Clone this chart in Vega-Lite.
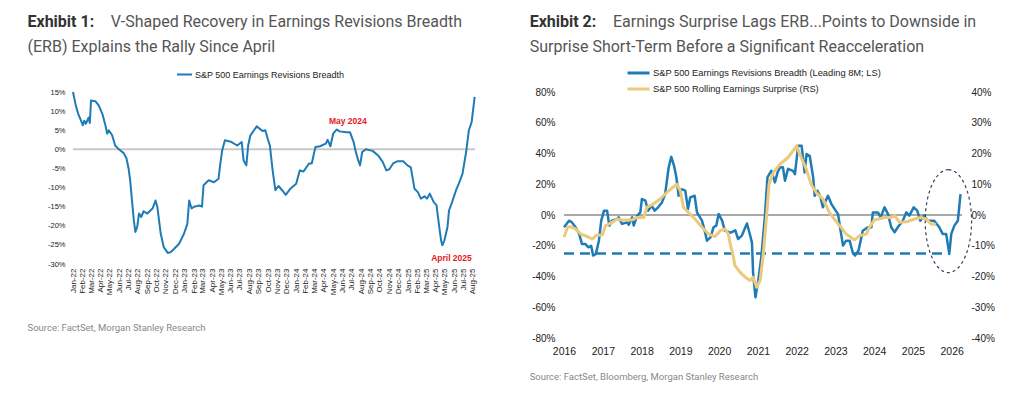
{
"$schema": "https://vega.github.io/schema/vega-lite/v6.json",
"background": "white",
"padding": {"left": 27, "top": 14, "right": 5, "bottom": 5},
"config": {
  "view": {"stroke": null},
  "axis": {"grid": false, "domain": false, "ticks": false, "labelFont": "Liberation Sans", "labelColor": "#222"}
},
"datasets": {
  "erb": [
{"date":"2022-01-01","erb":15.0},{"date":"2022-01-10","erb":11.5},{"date":"2022-01-18","erb":9.3},{"date":"2022-01-27","erb":7.6},{"date":"2022-02-02","erb":6.3},{"date":"2022-02-07","erb":7.5},{"date":"2022-02-12","erb":6.7},{"date":"2022-02-21","erb":8.3},{"date":"2022-02-25","erb":6.9},{"date":"2022-03-01","erb":12.8},{"date":"2022-03-15","erb":12.6},{"date":"2022-03-26","erb":11.5},{"date":"2022-04-07","erb":9.3},{"date":"2022-04-17","erb":6.3},{"date":"2022-04-23","erb":4.1},{"date":"2022-04-28","erb":5.0},{"date":"2022-05-09","erb":3.7},{"date":"2022-05-19","erb":1.0},{"date":"2022-05-31","erb":0.0},{"date":"2022-06-16","erb":-1.0},{"date":"2022-06-25","erb":-2.4},{"date":"2022-07-02","erb":-5.1},{"date":"2022-07-07","erb":-8.1},{"date":"2022-07-13","erb":-13.4},{"date":"2022-07-19","erb":-18.6},{"date":"2022-07-24","erb":-21.6},{"date":"2022-07-30","erb":-20.3},{"date":"2022-08-05","erb":-16.8},{"date":"2022-08-12","erb":-17.7},{"date":"2022-08-20","erb":-16.2},{"date":"2022-09-01","erb":-16.8},{"date":"2022-09-18","erb":-15.5},{"date":"2022-09-28","erb":-13.4},{"date":"2022-10-04","erb":-15.1},{"date":"2022-10-15","erb":-22.1},{"date":"2022-10-25","erb":-25.6},{"date":"2022-11-07","erb":-27.1},{"date":"2022-11-16","erb":-26.9},{"date":"2022-11-28","erb":-26.0},{"date":"2022-12-14","erb":-24.7},{"date":"2022-12-30","erb":-22.1},{"date":"2023-01-10","erb":-19.5},{"date":"2023-01-16","erb":-13.4},{"date":"2023-01-24","erb":-15.5},{"date":"2023-02-01","erb":-15.0},{"date":"2023-02-18","erb":-14.7},{"date":"2023-02-27","erb":-15.0},{"date":"2023-03-04","erb":-9.4},{"date":"2023-03-21","erb":-8.1},{"date":"2023-04-07","erb":-8.6},{"date":"2023-04-22","erb":-7.7},{"date":"2023-04-28","erb":-3.7},{"date":"2023-05-04","erb":-0.3},{"date":"2023-05-13","erb":2.4},{"date":"2023-06-01","erb":2.0},{"date":"2023-06-22","erb":1.0},{"date":"2023-07-07","erb":1.9},{"date":"2023-07-13","erb":-2.9},{"date":"2023-07-22","erb":-4.2},{"date":"2023-07-28","erb":1.0},{"date":"2023-08-04","erb":3.6},{"date":"2023-08-16","erb":5.0},{"date":"2023-08-25","erb":6.0},{"date":"2023-09-13","erb":4.8},{"date":"2023-09-22","erb":5.0},{"date":"2023-10-01","erb":2.5},{"date":"2023-10-07","erb":1.0},{"date":"2023-10-16","erb":-5.5},{"date":"2023-10-25","erb":-10.7},{"date":"2023-11-04","erb":-9.6},{"date":"2023-11-16","erb":-10.7},{"date":"2023-11-28","erb":-11.9},{"date":"2023-12-13","erb":-10.3},{"date":"2024-01-01","erb":-9.0},{"date":"2024-01-13","erb":-5.5},{"date":"2024-01-25","erb":-5.8},{"date":"2024-02-12","erb":-3.7},{"date":"2024-02-21","erb":-3.7},{"date":"2024-03-04","erb":0.6},{"date":"2024-03-19","erb":0.8},{"date":"2024-04-07","erb":1.5},{"date":"2024-04-13","erb":2.5},{"date":"2024-04-22","erb":0.8},{"date":"2024-05-01","erb":4.1},{"date":"2024-05-13","erb":5.2},{"date":"2024-05-22","erb":4.7},{"date":"2024-06-13","erb":4.5},{"date":"2024-06-25","erb":4.5},{"date":"2024-07-07","erb":1.9},{"date":"2024-07-13","erb":-0.3},{"date":"2024-07-22","erb":-2.9},{"date":"2024-07-28","erb":-4.2},{"date":"2024-08-04","erb":-0.7},{"date":"2024-08-16","erb":0.0},{"date":"2024-09-07","erb":-0.4},{"date":"2024-09-25","erb":-1.6},{"date":"2024-10-10","erb":-3.3},{"date":"2024-10-22","erb":-5.5},{"date":"2024-11-01","erb":-5.2},{"date":"2024-11-13","erb":-3.7},{"date":"2024-11-28","erb":-3.1},{"date":"2024-12-16","erb":-3.1},{"date":"2024-12-30","erb":-4.2},{"date":"2025-01-10","erb":-4.7},{"date":"2025-01-22","erb":-10.3},{"date":"2025-02-02","erb":-11.2},{"date":"2025-02-12","erb":-12.9},{"date":"2025-02-24","erb":-12.3},{"date":"2025-03-04","erb":-12.9},{"date":"2025-03-13","erb":-11.6},{"date":"2025-03-26","erb":-13.8},{"date":"2025-04-04","erb":-14.6},{"date":"2025-04-13","erb":-20.3},{"date":"2025-04-19","erb":-23.8},{"date":"2025-04-23","erb":-25.1},{"date":"2025-04-30","erb":-23.8},{"date":"2025-05-10","erb":-20.3},{"date":"2025-05-15","erb":-16.0},{"date":"2025-05-25","erb":-13.8},{"date":"2025-06-07","erb":-10.7},{"date":"2025-06-16","erb":-9.0},{"date":"2025-06-28","erb":-6.4},{"date":"2025-07-10","erb":-0.7},{"date":"2025-07-19","erb":5.0},{"date":"2025-07-28","erb":7.1},{"date":"2025-08-01","erb":9.8},{"date":"2025-08-07","erb":13.7}
  ],
  "notes1": [
    {"date":"2024-06-18","value":7.4,"label":"May 2024"},
    {"date":"2025-05-23","value":-28.5,"label":"April 2025"}
  ],
  "erb_lead": [
{"date":"2016-01-01","erb":-8},{"date":"2016-02-17","erb":-3.7},{"date":"2016-03-16","erb":-4.8},{"date":"2016-04-19","erb":-8},{"date":"2016-05-23","erb":-12.3},{"date":"2016-06-18","erb":-18.8},{"date":"2016-07-19","erb":-18.8},{"date":"2016-08-18","erb":-21},{"date":"2016-09-13","erb":-20},{"date":"2016-10-01","erb":-26.4},{"date":"2016-10-27","erb":-25.3},{"date":"2016-11-25","erb":-16.7},{"date":"2016-12-17","erb":-3.7},{"date":"2017-01-12","erb":2.8},{"date":"2017-02-10","erb":2.8},{"date":"2017-03-03","erb":-6.9},{"date":"2017-03-28","erb":-3.7},{"date":"2017-05-15","erb":-2.6},{"date":"2017-05-29","erb":-1.5},{"date":"2017-07-01","erb":-5.8},{"date":"2017-08-18","erb":-4.8},{"date":"2017-09-02","erb":-6.3},{"date":"2017-10-04","erb":-1.5},{"date":"2017-10-19","erb":-6.9},{"date":"2017-11-21","erb":-0.4},{"date":"2017-12-20","erb":1.7},{"date":"2018-01-04","erb":10.4},{"date":"2018-02-06","erb":9.3},{"date":"2018-03-03","erb":2.8},{"date":"2018-04-08","erb":6},{"date":"2018-05-04","erb":2.8},{"date":"2018-06-06","erb":5},{"date":"2018-07-12","erb":8.2},{"date":"2018-08-11","erb":13.6},{"date":"2018-09-13","erb":30.9},{"date":"2018-10-08","erb":37.8},{"date":"2018-11-03","erb":32},{"date":"2018-11-25","erb":24.4},{"date":"2018-12-16","erb":12.5},{"date":"2019-01-12","erb":16.8},{"date":"2019-02-17","erb":15.8},{"date":"2019-03-14","erb":3.9},{"date":"2019-04-05","erb":11.5},{"date":"2019-05-16","erb":12.5},{"date":"2019-06-07","erb":1.7},{"date":"2019-07-24","erb":-3.7},{"date":"2019-08-26","erb":-12.3},{"date":"2019-09-09","erb":-16.7},{"date":"2019-10-12","erb":-14.5},{"date":"2019-11-10","erb":-8},{"date":"2019-12-06","erb":-6.9},{"date":"2019-12-28","erb":0.6},{"date":"2020-01-30","erb":-3.7},{"date":"2020-02-24","erb":-10.2},{"date":"2020-04-19","erb":-11.5},{"date":"2020-06-02","erb":-10},{"date":"2020-06-28","erb":-15.6},{"date":"2020-08-03","erb":-13.4},{"date":"2020-09-20","erb":-5.5},{"date":"2020-10-19","erb":-13},{"date":"2020-11-06","erb":-18},{"date":"2020-11-17","erb":-38},{"date":"2020-12-09","erb":-53.5},{"date":"2021-01-04","erb":-42.7},{"date":"2021-02-02","erb":-27.5},{"date":"2021-03-07","erb":-1.6},{"date":"2021-04-01","erb":24.4},{"date":"2021-05-08","erb":28.8},{"date":"2021-06-10","erb":21.2},{"date":"2021-07-05","erb":27.7},{"date":"2021-07-27","erb":30.9},{"date":"2021-08-25","erb":31},{"date":"2021-09-13","erb":22.3},{"date":"2021-10-12","erb":30},{"date":"2021-11-28","erb":28.7},{"date":"2021-12-16","erb":26.6},{"date":"2022-01-15","erb":45},{"date":"2022-02-17","erb":45},{"date":"2022-03-17","erb":27.7},{"date":"2022-04-04","erb":39.6},{"date":"2022-05-04","erb":38.5},{"date":"2022-06-06","erb":24.4},{"date":"2022-06-20","erb":12.5},{"date":"2022-07-16","erb":15.8},{"date":"2022-08-14","erb":11.5},{"date":"2022-09-05","erb":5},{"date":"2022-10-23","erb":12.5},{"date":"2022-11-25","erb":7.1},{"date":"2023-01-26","erb":0.6},{"date":"2023-02-24","erb":-12.3},{"date":"2023-03-14","erb":-19.9},{"date":"2023-04-12","erb":-16.7},{"date":"2023-05-15","erb":-16.7},{"date":"2023-06-13","erb":-24.2},{"date":"2023-07-05","erb":-26.4},{"date":"2023-08-07","erb":-23.1},{"date":"2023-09-16","erb":-10.2},{"date":"2023-11-03","erb":-8},{"date":"2023-12-06","erb":-8},{"date":"2023-12-20","erb":1.7},{"date":"2024-02-06","erb":1.7},{"date":"2024-03-03","erb":-1.5},{"date":"2024-04-08","erb":5},{"date":"2024-05-11","erb":0.6},{"date":"2024-06-10","erb":-8},{"date":"2024-07-12","erb":-11.2},{"date":"2024-08-11","erb":-8},{"date":"2024-09-27","erb":-3.7},{"date":"2024-10-30","erb":1.7},{"date":"2024-11-28","erb":-0.4},{"date":"2025-01-08","erb":5},{"date":"2025-02-10","erb":2.8},{"date":"2025-03-11","erb":-3.7},{"date":"2025-04-16","erb":-0.4},{"date":"2025-05-19","erb":-3.7},{"date":"2025-07-20","erb":-3.7},{"date":"2025-09-06","erb":-8},{"date":"2025-10-08","erb":-12.3},{"date":"2025-11-10","erb":-12.3},{"date":"2025-12-09","erb":-25.3},{"date":"2025-12-28","erb":-12.3},{"date":"2026-01-26","erb":-6.9},{"date":"2026-02-28","erb":-3.7},{"date":"2026-03-25","erb":13.6}
  ],
  "surprise": [
{"date":"2016-01-01","surprise":-7.2},{"date":"2016-02-03","surprise":-4},{"date":"2016-03-03","surprise":-3.8},{"date":"2016-04-19","surprise":-4.5},{"date":"2016-06-07","surprise":-6.2},{"date":"2016-08-07","surprise":-7},{"date":"2016-09-24","surprise":-7.8},{"date":"2016-10-27","surprise":-6.7},{"date":"2016-12-28","surprise":-6.4},{"date":"2017-01-26","surprise":-3.5},{"date":"2017-03-28","surprise":-2.4},{"date":"2017-05-15","surprise":-1.3},{"date":"2017-07-01","surprise":-1.6},{"date":"2017-10-04","surprise":-1.6},{"date":"2017-11-21","surprise":-0.8},{"date":"2018-01-22","surprise":-0.8},{"date":"2018-02-20","surprise":2.5},{"date":"2018-04-22","surprise":3.6},{"date":"2018-06-24","surprise":5.2},{"date":"2018-09-13","surprise":7.9},{"date":"2018-11-28","surprise":10},{"date":"2019-01-01","surprise":7.9},{"date":"2019-01-30","surprise":2.5},{"date":"2019-03-17","surprise":0.9},{"date":"2019-05-19","surprise":-1.3},{"date":"2019-07-24","surprise":-4},{"date":"2019-09-24","surprise":-6.2},{"date":"2019-11-25","surprise":-7},{"date":"2020-01-12","surprise":-5.1},{"date":"2020-02-28","surprise":-4.5},{"date":"2020-03-28","surprise":-6.2},{"date":"2020-04-19","surprise":-10},{"date":"2020-05-15","surprise":-13.7},{"date":"2020-05-29","surprise":-16.4},{"date":"2020-07-16","surprise":-18.6},{"date":"2020-09-02","surprise":-20.2},{"date":"2020-10-19","surprise":-21.3},{"date":"2020-11-17","surprise":-20.2},{"date":"2020-12-20","surprise":-23.5},{"date":"2021-01-22","surprise":-21.3},{"date":"2021-02-21","surprise":-12.7},{"date":"2021-03-25","surprise":0.2},{"date":"2021-04-16","surprise":10},{"date":"2021-05-26","surprise":13.8},{"date":"2021-07-27","surprise":16.5},{"date":"2021-10-12","surprise":18.7},{"date":"2022-01-01","surprise":22.5},{"date":"2022-01-30","surprise":19.8},{"date":"2022-04-01","surprise":15},{"date":"2022-05-18","surprise":10},{"date":"2022-07-04","surprise":7.3},{"date":"2022-09-05","surprise":5.2},{"date":"2022-11-06","surprise":0.8},{"date":"2023-01-26","surprise":-2.9},{"date":"2023-02-24","surprise":-4},{"date":"2023-04-12","surprise":-6.2},{"date":"2023-07-01","surprise":-8.1},{"date":"2023-08-18","surprise":-6.7},{"date":"2023-10-19","surprise":-6.2},{"date":"2023-11-17","surprise":-4},{"date":"2024-01-04","surprise":-1.6},{"date":"2024-04-08","surprise":-0.8},{"date":"2024-06-10","surprise":-0.8},{"date":"2024-07-12","surprise":-0.2},{"date":"2024-08-28","surprise":-2.4},{"date":"2024-11-13","surprise":-2.1},{"date":"2025-01-15","surprise":-1.3},{"date":"2025-03-18","surprise":-0.8},{"date":"2025-05-04","surprise":-1.3},{"date":"2025-06-20","surprise":-2.9},{"date":"2025-08-07","surprise":-3.1}
  ]
},
"resolve": {"scale": {"color": "independent"}, "legend": {"color": "independent"}},
"spacing": 52,
"hconcat": [
  {
    "title": {"text": "Exhibit 1:", "subtitle": ["\u200b\u00a0\u00a0\u00a0\u00a0\u00a0\u00a0\u00a0\u00a0\u00a0\u00a0\u00a0\u00a0\u00a0\u00a0\u00a0\u00a0\u00a0\u00a0\u00a0\u00a0\u00a0V-Shaped Recovery in Earnings Revisions Breadth", "(ERB) Explains the Rally Since April"],
      "anchor": "start", "frame": "bounds", "font": "Roboto", "fontSize": 16, "fontWeight": "bold", "color": "#333333",
      "subtitleFont": "Roboto", "subtitleFontSize": 16, "subtitleFontWeight": "normal", "subtitleColor": "#555555", "subtitleLineHeight": 25, "subtitlePadding": -16, "offset": 11},
    "vconcat": [
      {
        "width": 402, "height": 172,
        "title": {"text": "Source: FactSet, Morgan Stanley Research", "orient": "bottom", "anchor": "start", "frame": "bounds", "dx": -20, "font": "Roboto", "fontSize": 9.5, "fontWeight": "normal", "color": "#888888", "offset": 28},
        "layer": [
          {"data": {"values": [{"level": 0}]}, "mark": {"type": "rule", "color": "#c8c8c8", "strokeWidth": 2},
           "encoding": {"y": {"field": "level", "type": "quantitative", "scale": {"domain": [-30, 15], "nice": false}, "title": null,
                   "axis": {"values": [-30,-25,-20,-15,-10,-5,0,5,10,15], "tickCount": 10, "labelExpr": "datum.value + '%'", "labelFontSize": 7.5, "labelPadding": 8, "labelOverlap": false, "labelFlush": false}}}},
          {"data": {"name": "erb"}, "mark": {"type": "line", "strokeWidth": 2, "strokeJoin": "round"},
           "encoding": {
             "x": {"field": "date", "type": "temporal", "title": null,
                   "scale": {"type": "utc", "domain": ["2022-01-01", "2025-08-08"]},
                   "axis": {"tickCount": {"interval": "month", "step": 1}, "labelExpr": "utcFormat(datum.value, '%b-%y')", "labelAngle": 270, "labelFontSize": 8, "labelPadding": 4, "labelOverlap": false, "labelBound": false, "labelFlush": false}},
             "y": {"field": "erb", "type": "quantitative", "title": null, "scale": {"domain": [-30, 15], "nice": false},
                   "axis": {"values": [-30,-25,-20,-15,-10,-5,0,5,10,15], "tickCount": 10, "labelExpr": "datum.value + '%'", "labelFontSize": 7.5, "labelPadding": 8, "labelOverlap": false, "labelFlush": false}},
             "color": {"datum": "S&P 500 Earnings Revisions Breadth", "scale": {"domain": ["S&P 500 Earnings Revisions Breadth"], "range": ["#1f7bb6"]},
                       "legend": {"orient": "none", "legendX": 103, "legendY": -26, "padding": 0, "title": null, "symbolType": "stroke", "symbolSize": 225, "symbolStrokeWidth": 2, "labelFont": "Liberation Sans", "labelFontSize": 9, "labelColor": "#222222", "labelOffset": 2, "labelLimit": 400}}
           }},
          {"data": {"name": "notes1"}, "mark": {"type": "text", "color": "#e31a1c", "fontWeight": "bold", "fontSize": 8.5, "font": "Liberation Sans"},
           "encoding": {"x": {"field": "date", "type": "temporal", "title": null},
                        "y": {"field": "value", "type": "quantitative", "title": null,
                              "axis": {"values": [-30,-25,-20,-15,-10,-5,0,5,10,15], "tickCount": 10, "labelExpr": "datum.value + '%'", "labelFontSize": 7.5, "labelPadding": 8, "labelOverlap": false, "labelFlush": false}},
                        "text": {"field": "label"}}}
        ]
      }
    ]
  },
  {
    "title": {"text": "Exhibit 2:", "subtitle": ["\u200b\u00a0\u00a0\u00a0\u00a0\u00a0\u00a0\u00a0\u00a0\u00a0\u00a0\u00a0\u00a0\u00a0\u00a0\u00a0\u00a0\u00a0\u00a0\u00a0\u00a0\u00a0Earnings Surprise Lags ERB...Points to Downside in", "Surprise Short-Term Before a Significant Reacceleration"],
      "anchor": "start", "frame": "bounds", "font": "Roboto", "fontSize": 16, "fontWeight": "bold", "color": "#333333",
      "subtitleFont": "Roboto", "subtitleFontSize": 16, "subtitleFontWeight": "normal", "subtitleColor": "#555555", "subtitleLineHeight": 25, "subtitlePadding": -16, "offset": 11},
    "vconcat": [
      {
        "width": 398, "height": 246,
        "title": {"text": "Source: FactSet, Bloomberg, Morgan Stanley Research", "orient": "bottom", "anchor": "start", "frame": "bounds", "dx": -2, "font": "Roboto", "fontSize": 9.5, "fontWeight": "normal", "color": "#888888", "offset": 15},
        "resolve": {"scale": {"y": "independent"}},
        "layer": [
          {
            "layer": [
              {"data": {"values": [{"level": 0}]}, "mark": {"type": "rule", "color": "#555555", "strokeWidth": 1},
               "encoding": {"y": {"field": "level", "type": "quantitative", "scale": {"domain": [-80, 80], "nice": false}, "title": null,
                       "axis": {"orient": "left", "values": [-80,-60,-40,-20,0,20,40,60,80], "tickCount": 9, "labelExpr": "datum.value + '%'", "labelFontSize": 10, "labelPadding": 9, "labelOverlap": false, "labelFlush": false}}}},
              {"data": {"values": [{"start": "2016-01-01", "end": "2025-12-05", "level": -25}]}, "mark": {"type": "rule", "color": "#1f7bb6", "strokeWidth": 2.5, "strokeDash": [10, 6]},
               "encoding": {"x": {"field": "start", "type": "temporal", "title": null}, "x2": {"field": "end"},
                            "y": {"field": "level", "type": "quantitative", "title": null,
                                  "axis": {"orient": "left", "values": [-80,-60,-40,-20,0,20,40,60,80], "tickCount": 9, "labelExpr": "datum.value + '%'", "labelFontSize": 10, "labelPadding": 9, "labelOverlap": false, "labelFlush": false}}}},
              {"data": {"name": "erb_lead"}, "mark": {"type": "line", "strokeWidth": 2.5, "strokeJoin": "round"},
               "encoding": {
                 "x": {"field": "date", "type": "temporal", "title": null,
                       "scale": {"type": "utc", "domain": ["2016-01-01", "2026-04-08"]},
                       "axis": {"tickCount": {"interval": "year", "step": 1}, "labelExpr": "utcFormat(datum.value, '%Y')", "labelFontSize": 10.5, "labelPadding": 8, "labelFlush": false, "labelOverlap": false}},
                 "y": {"field": "erb", "type": "quantitative", "title": null, "scale": {"domain": [-80, 80], "nice": false},
                       "axis": {"orient": "left", "values": [-80,-60,-40,-20,0,20,40,60,80], "tickCount": 9, "labelExpr": "datum.value + '%'", "labelFontSize": 10, "labelPadding": 9, "labelOverlap": false, "labelFlush": false}},
                 "color": {"datum": "S&P 500 Earnings Revisions Breadth (Leading 8M; LS)",
                           "scale": {"domain": ["S&P 500 Earnings Revisions Breadth (Leading 8M; LS)", "S&P 500 Rolling Earnings Surprise (RS)"], "range": ["#1f7bb6", "#ebc97d"]},
                           "legend": {"orient": "none", "legendX": 62, "legendY": -26, "direction": "vertical", "title": null, "symbolType": "stroke", "symbolSize": 484, "symbolStrokeWidth": 3, "labelFont": "Liberation Sans", "labelFontSize": 9.3, "labelColor": "#222222", "labelOffset": 2, "labelLimit": 400, "clipHeight": 14, "rowPadding": 2}}
               }},
              {"data": {"values": [{"date": "2025-12-01", "value": -4}]},
               "mark": {"type": "point", "shape": "M0,-1C0.2485,-1,0.45,-0.5523,0.45,0C0.45,0.5523,0.2485,1,0,1C-0.2485,1,-0.45,0.5523,-0.45,0C-0.45,-0.5523,-0.2485,-1,0,-1Z", "size": 10609, "filled": false, "stroke": "#34425e", "strokeWidth": 1.2, "strokeDash": [3, 3], "opacity": 1},
               "encoding": {"x": {"field": "date", "type": "temporal", "title": null},
                            "y": {"field": "value", "type": "quantitative", "title": null,
                                  "axis": {"orient": "left", "values": [-80,-60,-40,-20,0,20,40,60,80], "tickCount": 9, "labelExpr": "datum.value + '%'", "labelFontSize": 10, "labelPadding": 9, "labelOverlap": false, "labelFlush": false}}}}
            ]
          },
          {"data": {"name": "surprise"}, "mark": {"type": "line", "strokeWidth": 3, "strokeJoin": "round"},
           "encoding": {
             "x": {"field": "date", "type": "temporal", "title": null},
             "y": {"field": "surprise", "type": "quantitative", "title": null, "scale": {"domain": [-40, 40], "nice": false},
                   "axis": {"orient": "right", "values": [-40,-30,-20,-10,0,10,20,30,40], "labelExpr": "datum.value + '%'", "labelFontSize": 10, "labelPadding": 9, "labelOverlap": false}},
             "color": {"datum": "S&P 500 Rolling Earnings Surprise (RS)"}
           }}
        ]
      }
    ]
  }
]
}
